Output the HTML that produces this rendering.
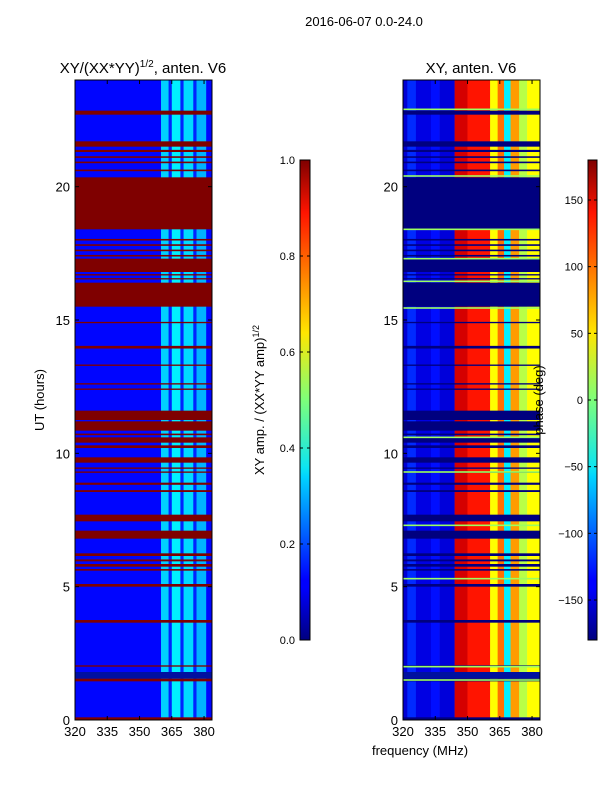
<!DOCTYPE html>
<html><head><meta charset="utf-8"><style>
body{margin:0;background:#fff;}
svg{display:block;font-family:"Liberation Sans",sans-serif;}
</style></head><body>
<svg id="fig" width="600" height="800" viewBox="0 0 600 800">
<defs>
<linearGradient id="jet" x1="0" y1="1" x2="0" y2="0">
<stop offset="0" stop-color="#00007f"/><stop offset="0.11" stop-color="#0000ff"/><stop offset="0.125" stop-color="#0000ff"/><stop offset="0.34" stop-color="#00d4ff"/><stop offset="0.36" stop-color="#0de5f1"/><stop offset="0.5" stop-color="#7dff7a"/><stop offset="0.64" stop-color="#ffe600"/><stop offset="0.66" stop-color="#ffd500"/><stop offset="0.89" stop-color="#ff1400"/><stop offset="1" stop-color="#7f0000"/>
</linearGradient>
</defs>
<text x="364" y="26" font-size="13" text-anchor="middle">2016-06-07 0.0-24.0</text>
<g id="left"></g>
<g id="right"></g>
<text x="143" y="73" font-size="15" text-anchor="middle">XY/(XX*YY)<tspan font-size="10" dy="-6">1/2</tspan><tspan dy="6">, anten. V6</tspan></text>
<text x="471" y="73" font-size="15" text-anchor="middle">XY, anten. V6</text>
<text x="44" y="400" font-size="13" text-anchor="middle" transform="rotate(-90 44 400)">UT (hours)</text>
<text x="420" y="755" font-size="13" text-anchor="middle">frequency (MHz)</text>
<rect x="300" y="160" width="10" height="480" fill="url(#jet)" stroke="#000" stroke-width="1"/>
<rect x="588" y="160" width="9" height="480" fill="url(#jet)" stroke="#000" stroke-width="1"/>
<text x="264" y="400" font-size="13" text-anchor="middle" transform="rotate(-90 264 400)">XY amp. / (XX*YY amp)<tspan font-size="9" dy="-5">1/2</tspan></text>
<text x="543" y="400" font-size="13" text-anchor="middle" transform="rotate(-90 543 400)">phase (deg)</text>
<g id="cb1"></g>
<g id="cb2"></g>
</svg>
<script>
const flagBands=[[22.7,22.85],[21.5,21.7],[21.3,21.38],[21.08,21.14],[20.88,20.94],[20.58,20.64],[18.4,20.35],[17.98,18.04],[17.78,17.84],[17.58,17.64],[17.38,17.44],[16.8,17.3],[16.67,16.72],[16.52,16.57],[15.5,16.4],[14.88,14.93],[13.93,14.03],[13.28,13.33],[12.58,12.63],[12.38,12.43],[11.25,11.6],[10.85,11.2],[10.68,10.74],[10.4,10.6],[10.2,10.3],[9.65,9.85],[9.42,9.47],[9.27,9.32],[8.82,8.9],[8.55,8.62],[7.45,7.7],[6.8,7.1],[6.15,6.25],[5.95,6.02],[5.75,5.85],[5.6,5.66],[5.0,5.1],[3.65,3.75],[2.0,2.05],[1.45,1.55],[0,0.1]];
const darkBands=[[1.55,1.8]];
const greenLines=[22.9,20.4,18.4,17.3,16.45,15.45,10.6,9.3,7.3,5.3,2.0,1.5];
const freqEdgesL=[320,360,363.5,365,369,370.5,375,376.5,381,384];
const ampVals=[0.13,0.33,0.16,0.36,0.16,0.34,0.16,0.3,0.13];
const freqEdgesR=[320,322,326,333,337,344,350,360.5,364,367,370,374,377.7,384];
const phaseVals=[-150,-120,-145,-130,-148,150,128,45,95,-50,80,20,45];
const xTicks=[320,335,350,365,380];
const yTicks=[0,5,10,15,20];
const ampTicks=[0,0.2,0.4,0.6,0.8,1.0];
const phaseTicks=[150,100,50,0,-50,-100,-150];

const NS="http://www.w3.org/2000/svg";
function jet(v){v=Math.max(0,Math.min(1,v));
 const c=(x)=>Math.max(0,Math.min(1,1.5-Math.abs(4*v-x)));
 return `rgb(${Math.round(255*c(3))},${Math.round(255*c(2))},${Math.round(255*c(1))})`;}
function mk(tag,attrs,parent){const e=document.createElementNS(NS,tag);for(const k in attrs)e.setAttribute(k,attrs[k]);parent.appendChild(e);return e;}
const Y0=720,Y1=80;
const yS=t=>Y0-(Y0-Y1)*t/24;
function panel(g,x0,edges,vals,norm,flagColor){
 const w=137;const xS=f=>x0+(f-320)*w/63.7;
 for(let i=0;i<vals.length;i++){
  const r=mk('rect',{x:xS(edges[i]),y:Y1,width:Math.min(x0+w,xS(edges[i+1]))-xS(edges[i])+0.3,height:Y0-Y1,fill:jet(norm(vals[i]))},g);
  
  
 }
 darkBands.forEach(b=>{const r=mk('rect',{x:x0,y:yS(b[1]),width:w,height:yS(b[0])-yS(b[1]),fill:'#0010a0'},g);
  
  });
 flagBands.forEach(b=>{const r=mk('rect',{x:x0,y:yS(b[1]),width:w,height:Math.max(1.2,yS(b[0])-yS(b[1])),fill:flagColor},g);
  
  });
 if(flagColor==='#00007f'){greenLines.forEach(t=>{const r=mk('rect',{x:x0,y:yS(t)-0.8,width:w,height:1.6,fill:'#9cff60'},g);
  
  });}
 const fr=mk('rect',{x:x0,y:Y1,width:w,height:Y0-Y1,fill:'none',stroke:'#000','stroke-width':1},g);
 
 
 xTicks.forEach(f=>{const x=xS(f);
  mk('line',{x1:x,x2:x,y1:Y0,y2:Y0-4,stroke:'#000'},g);mk('line',{x1:x,x2:x,y1:Y1,y2:Y1+4,stroke:'#000'},g);
  const t=mk('text',{x:x,y:Y0+16,'font-size':13,'text-anchor':'middle'},g);t.textContent=f;
  
  });
 yTicks.forEach(v=>{const y=yS(v);
  mk('line',{x1:x0,x2:x0+4,y1:y,y2:y,stroke:'#000'},g);mk('line',{x1:x0+w,x2:x0+w-4,y1:y,y2:y,stroke:'#000'},g);
  const t=mk('text',{x:x0-5,y:y+5,'font-size':13,'text-anchor':'end'},g);t.textContent=v;
  
  });
}
panel(document.getElementById('left'),75,freqEdgesL,ampVals,v=>v,'#7f0000');
panel(document.getElementById('right'),403,freqEdgesR,phaseVals,v=>(v+180)/360,'#00007f');
const cb1=document.getElementById('cb1');
ampTicks.forEach(v=>{const y=640-480*v;
 mk('line',{x1:300,x2:303,y1:y,y2:y,stroke:'#000'},cb1);mk('line',{x1:310,x2:307,y1:y,y2:y,stroke:'#000'},cb1);
 const t=mk('text',{x:295,y:y+4,'font-size':11,'text-anchor':'end'},cb1);t.textContent=v.toFixed(1);
 
 });
const cb2=document.getElementById('cb2');
phaseTicks.forEach(v=>{const y=640-480*(v+180)/360;
 mk('line',{x1:588,x2:591,y1:y,y2:y,stroke:'#000'},cb2);mk('line',{x1:597,x2:594,y1:y,y2:y,stroke:'#000'},cb2);
 const t=mk('text',{x:583,y:y+4,'font-size':11,'text-anchor':'end'},cb2);t.textContent=v<0?'\u2212'+(-v):v;
 
 });
</script>
</body></html>
